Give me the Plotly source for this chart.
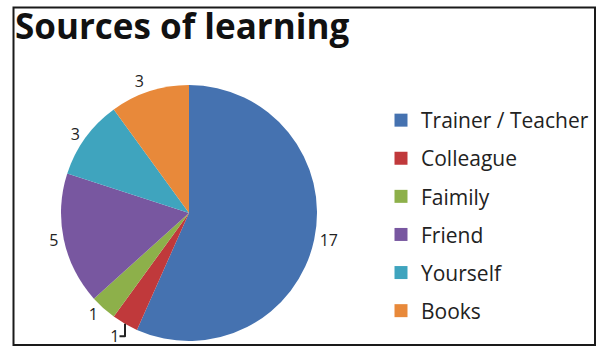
import plotly.graph_objects as go

# Survey results: where respondents learned the skill
categories = ["Trainer / Teacher", "Colleague", "Faimily", "Friend", "Yourself", "Books"]
counts = [17, 1, 1, 5, 3, 3]
slice_colors = ["#4572B0", "#C0393B", "#8DB04A", "#7857A0", "#3FA4BE", "#E8893A"]

W, H = 597, 347

fig = go.Figure()

fig.add_trace(go.Pie(
    labels=categories,
    values=counts,
    sort=False,
    direction="clockwise",
    rotation=0,
    marker=dict(colors=slice_colors, line=dict(width=0)),
    textinfo="value",
    textposition="outside",
    outsidetextfont=dict(family="Open Sans", size=16, color="#222222"),
    showlegend=False,
    hoverinfo="label+value",
    domain=dict(x=[(189 - 128) / W, (189 + 128) / W],
                y=[(H - 213 - 128) / H, (H - 213 + 128) / H]),
))

# Legend entries (one group each so the spacing between rows can be set)
for name, col in zip(categories, slice_colors):
    fig.add_trace(go.Scatter(
        x=[None], y=[None], mode="markers", name=name,
        legendgroup=name, showlegend=True,
        marker=dict(symbol="square", size=13, color=col, line=dict(width=0)),
    ))

fig.add_shape(type="rect", xref="paper", yref="paper",
              x0=13.5 / W, x1=595 / W, y0=1 - 345 / H, y1=1 - 7.5 / H,
              line=dict(color="#1a1a1a", width=2), fillcolor="rgba(0,0,0,0)")

fig.update_layout(
    width=W, height=H,
    margin=dict(l=0, r=0, t=0, b=0, autoexpand=False),
    paper_bgcolor="white", plot_bgcolor="white",
    title=dict(text="<b>Sources of learning</b>", x=15 / W, xref="container",
               xanchor="left", y=1 - 14 / H, yref="container", yanchor="top",
               font=dict(family="Open Sans", size=35, color="#111111")),
    xaxis=dict(visible=False), yaxis=dict(visible=False),
    legend=dict(x=381 / W, xref="container", xanchor="left",
                y=1 - 100 / H, yref="container", yanchor="top",
                font=dict(family="Open Sans", size=21, color="#222222"),
                tracegroupgap=7.8, traceorder="grouped", maxheight=330,
                bgcolor="rgba(0,0,0,0)", itemclick=False),
)

fig.write_html("out.html")
